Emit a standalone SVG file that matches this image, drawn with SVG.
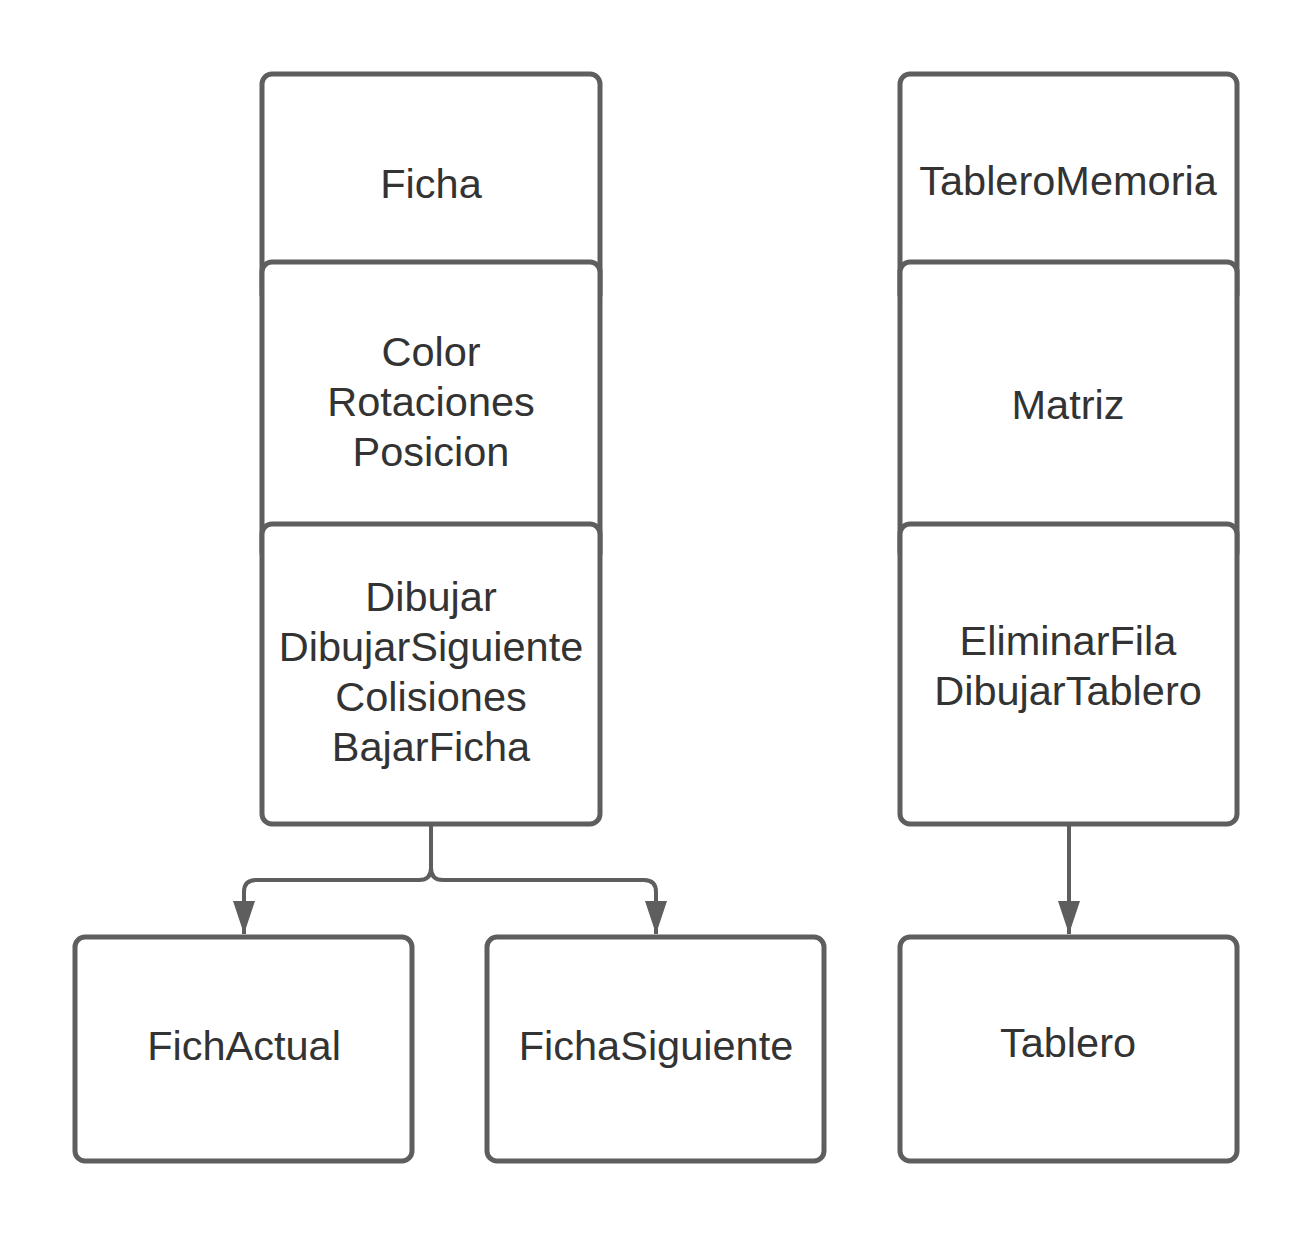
<svg xmlns="http://www.w3.org/2000/svg" width="1313" height="1238" viewBox="0 0 1313 1238">
<defs>
<style>
.box{fill:#fff;stroke:#5e5e5e;stroke-width:5}
.t{font-family:"Liberation Sans",Arial,sans-serif;font-size:41.5px;fill:#333;text-anchor:middle}
.c{fill:none;stroke:#5e5e5e;stroke-width:4}
</style>
<marker id="arr" markerUnits="userSpaceOnUse" markerWidth="34" markerHeight="24" refX="33" refY="11" orient="auto" viewBox="0 0 34 22">
<path d="M0 0 L33 11 L0 22 Z" fill="#5e5e5e"/>
</marker>
</defs>
<rect width="1313" height="1238" fill="#fff"/>
<g id="connectors">
<path class="c" d="M431 824 V868 Q431 880 419 880 H256 Q244 880 244 892 V934" marker-end="url(#arr)"/>
<path class="c" d="M431 824 V868 Q431 880 443 880 H644 Q656 880 656 892 V934" marker-end="url(#arr)"/>
<path class="c" d="M1069 824 V934" marker-end="url(#arr)"/>
</g>
<g id="ficha">
<rect class="box" x="262" y="74" width="338" height="230" rx="10"/>
<text class="t" x="431" y="198">Ficha</text>
</g>
<g id="ficha-atributos">
<rect class="box" x="262" y="262" width="338" height="300" rx="10"/>
<text class="t" x="431" y="366">Color</text>
<text class="t" x="431" y="416">Rotaciones</text>
<text class="t" x="431" y="466">Posicion</text>
</g>
<g id="ficha-metodos">
<rect class="box" x="262" y="524" width="338" height="300" rx="10"/>
<text class="t" x="431" y="611">Dibujar</text>
<text class="t" x="431" y="661">DibujarSiguiente</text>
<text class="t" x="431" y="711">Colisiones</text>
<text class="t" x="431" y="761">BajarFicha</text>
</g>
<g id="tablero-memoria">
<rect class="box" x="900" y="74" width="337" height="230" rx="10"/>
<text class="t" x="1068" y="195">TableroMemoria</text>
</g>
<g id="tablero-atributos">
<rect class="box" x="900" y="262" width="337" height="300" rx="10"/>
<text class="t" x="1068" y="419">Matriz</text>
</g>
<g id="tablero-metodos">
<rect class="box" x="900" y="524" width="337" height="300" rx="10"/>
<text class="t" x="1068" y="655">EliminarFila</text>
<text class="t" x="1068" y="705">DibujarTablero</text>
</g>
<g id="fich-actual">
<rect class="box" x="75" y="937" width="337" height="224" rx="10"/>
<text class="t" x="244" y="1060">FichActual</text>
</g>
<g id="ficha-siguiente">
<rect class="box" x="487" y="937" width="337" height="224" rx="10"/>
<text class="t" x="656" y="1060">FichaSiguiente</text>
</g>
<g id="tablero">
<rect class="box" x="900" y="937" width="337" height="224" rx="10"/>
<text class="t" x="1068" y="1057">Tablero</text>
</g>
</svg>
